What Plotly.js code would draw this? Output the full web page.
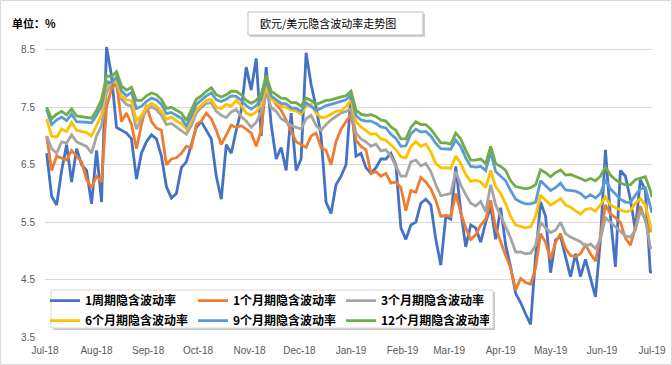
<!DOCTYPE html>
<html><head><meta charset="utf-8">
<script src="https://cdn.plot.ly/plotly-3.0.1.min.js"></script>
<style>html,body{margin:0;padding:0;background:#fff}#chart{width:672px;height:365px}</style>
</head><body><div id="chart"></div>
<script>
const dates = ['2018-07-02','2018-07-05','2018-07-08','2018-07-11','2018-07-14','2018-07-17','2018-07-20','2018-07-23','2018-07-26','2018-07-29',
'2018-08-01','2018-08-04','2018-08-07','2018-08-10','2018-08-13','2018-08-16','2018-08-19','2018-08-22','2018-08-25','2018-08-28',
'2018-08-31','2018-09-03','2018-09-06','2018-09-09','2018-09-12','2018-09-15','2018-09-18','2018-09-21','2018-09-24','2018-09-27',
'2018-09-30','2018-10-03','2018-10-06','2018-10-09','2018-10-12','2018-10-15','2018-10-18','2018-10-21','2018-10-24','2018-10-27',
'2018-10-30','2018-11-02','2018-11-05','2018-11-08','2018-11-11','2018-11-14','2018-11-17','2018-11-20','2018-11-23','2018-11-26',
'2018-11-29','2018-12-02','2018-12-05','2018-12-08','2018-12-11','2018-12-14','2018-12-17','2018-12-20','2018-12-23','2018-12-26',
'2018-12-29','2019-01-01','2019-01-04','2019-01-07','2019-01-10','2019-01-13','2019-01-16','2019-01-19','2019-01-22','2019-01-25',
'2019-01-28','2019-01-31','2019-02-03','2019-02-06','2019-02-09','2019-02-12','2019-02-15','2019-02-18','2019-02-21','2019-02-24',
'2019-02-27','2019-03-02','2019-03-05','2019-03-08','2019-03-11','2019-03-14','2019-03-17','2019-03-20','2019-03-23','2019-03-26',
'2019-03-29','2019-04-01','2019-04-04','2019-04-07','2019-04-10','2019-04-13','2019-04-16','2019-04-19','2019-04-22','2019-04-25',
'2019-04-28','2019-05-01','2019-05-04','2019-05-07','2019-05-10','2019-05-13','2019-05-16','2019-05-19','2019-05-22','2019-05-25',
'2019-05-28','2019-05-31','2019-06-03','2019-06-06','2019-06-09','2019-06-12','2019-06-15','2019-06-18','2019-06-21','2019-06-24',
'2019-06-27','2019-06-30','2019-07-01'];

const vol1W = [6.70,5.95,5.80,6.40,6.85,6.20,6.78,6.50,6.40,5.82,
6.75,5.85,8.55,8.05,7.15,7.10,7.05,6.95,6.25,6.70,
6.90,7.02,6.95,6.65,6.12,5.92,6.00,6.45,6.55,6.85,
7.15,7.25,7.10,6.95,6.30,5.90,6.85,6.70,7.10,7.45,
8.20,7.80,8.35,7.00,8.20,7.20,6.60,6.80,6.40,7.40,
6.40,6.60,8.45,7.90,7.50,7.00,5.85,5.65,6.15,6.30,
6.50,7.70,6.65,6.70,6.45,6.35,6.45,6.60,6.60,6.70,
6.50,5.40,5.20,5.45,5.50,5.83,5.90,5.80,5.20,4.75,
5.60,5.55,6.47,5.70,5.07,5.45,5.40,5.15,5.50,5.77,
5.20,5.75,5.10,4.72,4.26,4.10,3.90,3.72,4.90,5.85,
5.60,4.62,5.19,5.25,4.90,4.55,4.95,4.55,4.85,4.50,
4.20,5.20,6.76,5.60,4.72,6.40,6.30,5.90,5.36,6.24,
6.06,4.62,4.65];

const vol1M = [7.00,6.40,6.65,6.62,6.58,6.75,6.65,6.55,6.24,6.10,
6.30,6.20,7.50,7.82,7.92,7.25,7.40,7.20,6.78,7.20,
7.54,7.25,7.14,7.10,6.50,6.60,6.62,6.70,6.82,6.80,
7.20,7.26,7.40,7.30,7.10,6.85,7.02,7.19,7.15,7.18,
7.12,7.05,6.82,7.10,7.90,7.70,7.55,7.45,7.28,7.10,
6.90,6.85,6.80,7.00,7.05,6.80,6.75,6.50,6.90,7.12,
7.24,7.38,6.93,6.82,6.76,6.35,6.38,6.30,6.35,6.18,
6.20,6.10,5.70,6.05,6.02,6.28,6.20,6.08,5.88,5.60,
5.62,5.60,6.00,5.66,5.40,5.20,5.28,5.45,5.55,5.88,
5.40,5.15,4.92,4.70,4.32,4.52,4.45,4.42,4.70,5.30,
5.15,4.86,5.15,5.30,5.04,4.92,4.90,4.95,5.10,4.95,
4.82,5.25,5.80,5.64,5.58,5.50,5.22,5.10,5.40,5.78,
5.52,5.33,5.38];

const vol3M = [7.00,6.78,6.70,6.90,6.88,7.02,6.90,6.86,6.82,6.70,
7.00,7.18,7.75,7.92,7.95,7.64,7.55,7.52,7.12,7.30,
7.45,7.51,7.46,7.36,7.20,7.22,7.16,7.10,7.03,7.18,
7.40,7.50,7.57,7.58,7.43,7.36,7.32,7.42,7.46,7.34,
7.26,7.15,7.24,7.42,7.75,7.50,7.43,7.30,7.25,7.18,
7.15,7.12,7.30,7.36,7.18,7.10,7.20,7.28,7.34,7.40,
7.43,7.47,7.05,6.95,6.90,6.82,6.86,6.74,6.76,6.65,
6.47,6.30,6.30,6.55,6.58,6.48,6.52,6.38,6.15,5.96,
5.98,6.00,6.38,6.15,5.98,5.83,5.78,5.86,5.68,6.15,
5.80,5.62,5.42,5.22,4.98,4.98,4.95,4.96,5.10,5.50,
5.40,5.32,5.36,5.50,5.30,5.24,5.20,5.16,5.08,5.12,
5.04,5.20,5.58,5.50,5.42,5.35,5.26,5.24,5.36,5.70,
5.55,5.06,5.05];

const vol6M = [7.30,7.00,6.98,7.12,7.08,7.24,7.10,7.08,7.06,7.00,
7.20,7.37,7.88,7.92,7.97,7.70,7.63,7.62,7.25,7.36,
7.50,7.57,7.52,7.43,7.29,7.33,7.26,7.22,7.12,7.28,
7.46,7.54,7.62,7.64,7.50,7.48,7.55,7.52,7.62,7.53,
7.40,7.36,7.42,7.55,7.85,7.65,7.58,7.52,7.50,7.45,
7.44,7.38,7.52,7.55,7.40,7.32,7.33,7.38,7.43,7.44,
7.51,7.62,7.25,7.16,7.10,7.03,7.04,6.95,6.93,6.85,
6.76,6.64,6.62,6.82,6.90,6.82,6.86,6.72,6.52,6.45,
6.44,6.44,6.65,6.52,6.33,6.21,6.23,6.20,6.10,6.40,
6.12,6.00,5.82,5.60,5.45,5.42,5.40,5.42,5.60,5.97,
5.88,5.80,5.85,5.91,5.80,5.76,5.70,5.64,5.72,5.74,
5.69,5.80,5.94,5.80,5.75,5.72,5.68,5.70,5.83,5.91,
5.80,5.45,5.34];

const vol9M = [7.46,7.20,7.28,7.33,7.27,7.38,7.25,7.25,7.24,7.23,
7.36,7.53,7.95,7.93,8.03,7.79,7.70,7.76,7.48,7.52,
7.60,7.66,7.63,7.55,7.39,7.41,7.36,7.31,7.18,7.35,
7.55,7.62,7.70,7.75,7.63,7.60,7.64,7.70,7.69,7.62,
7.53,7.47,7.53,7.64,7.98,7.70,7.63,7.57,7.56,7.49,
7.48,7.43,7.58,7.52,7.45,7.48,7.53,7.55,7.58,7.60,
7.63,7.72,7.36,7.28,7.26,7.26,7.22,7.16,7.14,7.03,
6.96,6.82,6.83,7.04,7.12,7.07,7.08,7.00,6.87,6.78,
6.78,6.77,6.93,6.82,6.62,6.47,6.46,6.47,6.40,6.72,
6.38,6.30,6.22,6.05,5.90,5.85,5.82,5.82,5.85,6.22,
6.14,6.05,6.10,6.18,6.06,6.05,6.04,6.00,5.92,5.98,
5.92,6.00,6.24,6.08,5.98,5.90,5.85,5.84,5.97,6.08,
6.10,5.80,5.66];

const vol12M = [7.50,7.30,7.38,7.43,7.37,7.47,7.35,7.34,7.33,7.31,
7.45,7.63,8.05,8.03,8.12,7.87,7.80,7.85,7.62,7.62,
7.70,7.75,7.72,7.64,7.48,7.50,7.45,7.40,7.27,7.45,
7.64,7.70,7.78,7.84,7.72,7.68,7.72,7.78,7.78,7.72,
7.62,7.57,7.62,7.72,8.05,7.78,7.72,7.66,7.65,7.58,
7.58,7.52,7.66,7.62,7.55,7.58,7.62,7.63,7.66,7.68,
7.70,7.78,7.45,7.38,7.36,7.37,7.34,7.28,7.26,7.16,
7.10,6.95,6.95,7.15,7.25,7.20,7.20,7.12,7.00,6.88,
6.88,6.86,7.05,6.95,6.75,6.58,6.58,6.60,6.52,6.82,
6.52,6.47,6.40,6.22,6.12,6.10,6.08,6.10,6.15,6.41,
6.36,6.29,6.36,6.41,6.32,6.33,6.30,6.26,6.22,6.26,
6.22,6.30,6.46,6.32,6.24,6.18,6.15,6.15,6.24,6.26,
6.29,6.05,5.94];

const seriesNames = ['1周期隐含波动率','1个月期隐含波动率','3个月期隐含波动率','6个月期隐含波动率','9个月期隐含波动率','12个月期隐含波动率'];
const seriesColors = ['#4472C4','#ED7D31','#A5A5A5','#FFC000','#5B9BD5','#70AD47'];
const yTickVals = [3.5,4.5,5.5,6.5,7.5,8.5];
const xTickVals = ['2018-07-01','2018-08-01','2018-09-01','2018-10-01','2018-11-01','2018-12-01','2019-01-01','2019-02-01','2019-03-01','2019-04-01','2019-05-01','2019-06-01','2019-07-01'];
const chartTitle = '欧元/美元隐含波动率走势图';
const unitLabel = '单位：%';

const allSeries = [vol1W, vol1M, vol3M, vol6M, vol9M, vol12M];
const traces = allSeries.map((vals, i) => ({
  type: 'scatter', mode: 'lines', x: dates, y: vals, name: seriesNames[i],
  line: {color: seriesColors[i], width: 2.8},
  legend: i < 3 ? 'legend' : 'legend2'
}));

const legendBase = {
  orientation: 'h', x: 0, xanchor: 'left', yanchor: 'middle',
  bgcolor: 'rgba(0,0,0,0)', borderwidth: 0,
  font: {family: 'Noto Sans CJK SC', size: 12, color: '#000', weight: 'bold'},
  entrywidth: 103, entrywidthmode: 'pixels', itemwidth: 30, traceorder: 'normal'
};

const tickFont = {family: 'Liberation Sans, Arial, sans-serif', size: 10, color: '#595959'};

const layout = {
  width: 672, height: 365,
  margin: {l: 45, r: 20, t: 43, b: 28, pad: 0},
  paper_bgcolor: '#fff', plot_bgcolor: '#fff',
  showlegend: true,
  title: {text: chartTitle, x: 0.3869, xanchor: 'left', xref: 'container', y: 0.9342, yanchor: 'middle', yref: 'container',
    font: {family: 'Noto Sans CJK SC', size: 11, color: '#000'}},
  xaxis: {type: 'date', range: ['2018-07-01', '2019-07-01'], tickvals: xTickVals, tickformat: '%b-%y',
    showgrid: false, zeroline: false, showline: false, ticks: '', tickfont: tickFont, ticklabelstandoff: 6, fixedrange: true},
  yaxis: {range: [3.5, 8.62], tickvals: yTickVals, tickformat: '.1f', showgrid: true, gridcolor: '#d9d9d9', gridwidth: 1,
    zeroline: false, showline: false, ticks: '', tickfont: tickFont, ticklabelstandoff: 9, fixedrange: true},
  legend: Object.assign({}, legendBase, {y: 0.1235}),
  legend2: Object.assign({}, legendBase, {y: 0.0554}),
  shapes: [
    {type: 'rect', xref: 'paper', yref: 'paper', x0: -0.07331, x1: 1.03213, y0: -0.0935, y1: 1.1446, line: {color: '#d9d9d9', width: 1}, fillcolor: 'rgba(0,0,0,0)', layer: 'above'},
    {type: 'rect', xref: 'paper', yref: 'paper', x0: 0.33773, x1: 0.62603, y0: 1.0204, y1: 1.0986, line: {width: 0}, fillcolor: '#cfcfcf', layer: 'above'},
    {type: 'rect', xref: 'paper', yref: 'paper', x0: 0.33443, x1: 0.62273, y0: 1.0272, y1: 1.1054, line: {color: '#bfbfbf', width: 1}, fillcolor: '#ffffff', layer: 'above'},
    {type: 'rect', xref: 'paper', yref: 'paper', x0: 0.01318, x1: 0.74135, y0: 0.0238, y1: 0.1531, line: {width: 0}, fillcolor: '#c8c8c8', layer: 'above'},
    {type: 'rect', xref: 'paper', yref: 'paper', x0: 0.00988, x1: 0.73806, y0: 0.0306, y1: 0.1599, line: {color: '#d9d9d9', width: 1}, fillcolor: '#ffffff', layer: 'above'}
  ],
  annotations: [
    {text: unitLabel, xref: 'paper', yref: 'paper', x: -0.05766, xanchor: 'left', y: 1.0680, yanchor: 'middle', showarrow: false,
      font: {family: 'Noto Sans CJK SC', size: 11, color: '#000', weight: 'bold'}}
  ]
};

Plotly.newPlot('chart', traces, layout, {staticPlot: true, displayModeBar: false});
</script>
</body></html>
